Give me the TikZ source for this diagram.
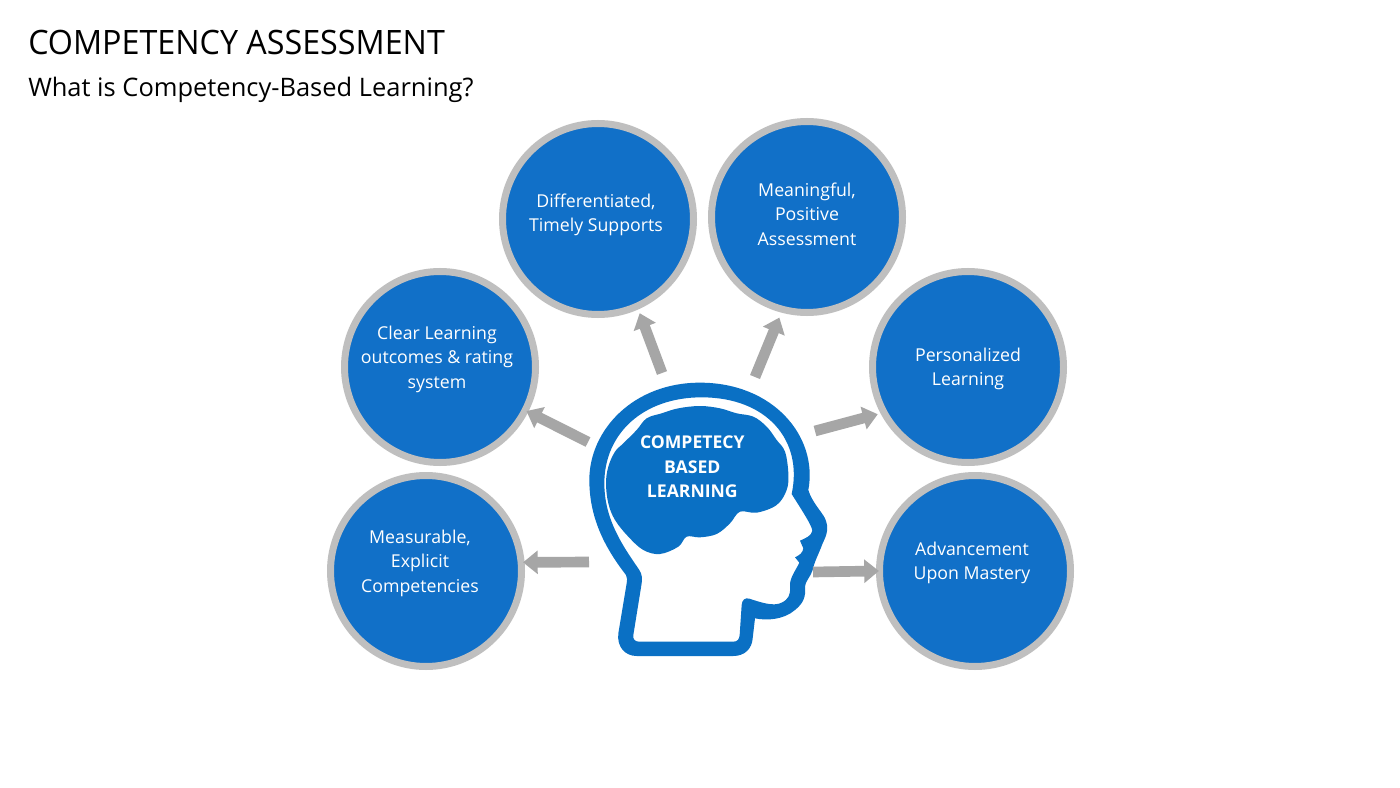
\documentclass[tikz,border=0pt]{standalone}
\usepackage{fontspec}
\setmainfont{Open Sans}
\newfontfamily\titlefont[FakeStretch=0.96]{Open Sans}
\usetikzlibrary{arrows.meta}
\definecolor{disc}{HTML}{1170C8}
\definecolor{ringc}{HTML}{BFBFBF}
\definecolor{arrowc}{HTML}{A6A6A6}
\definecolor{headc}{HTML}{0A70C4}
\tikzset{
  topic/.style={circle,draw=ringc,fill=disc,line width=5.25pt,minimum size=143.25pt,inner sep=0pt},
  topictext/.style={text=white,align=center,inner sep=0pt,font=\fontsize{13.3}{18.3}\selectfont},
  link/.style={draw=arrowc,line width=8pt,-{Triangle[width=17pt,length=11pt]}},
  title/.style={anchor=west,inner sep=0pt,text=black},
  headtext/.style={text=white,align=center,inner sep=0pt,font=\fontsize{13.2}{18.4}\selectfont\bfseries}
}
\begin{document}
\begin{tikzpicture}[x=.75pt,y=-.75pt]
\path[use as bounding box,fill=white] (0,0) rectangle (1400,788);
\node[title,font=\fontsize{25.2}{30}\titlefont] (ttl) at (28,42) {COMPETENCY ASSESSMENT};
\node[title,font=\fontsize{19.1}{24}\selectfont] (sub) at (28,90) {What is Competency-Based Learning?};

\node[topic] (c1) at (426,571) {};
\node[topic] (c2) at (440,367) {};
\node[topic] (c3) at (598,219) {};
\node[topic] (c4) at (807,217) {};
\node[topic] (c5) at (968,367) {};
\node[topic] (c6) at (975,571) {};
\node[topictext] (l1) at (420,563) {Measurable,\\Explicit\\Competencies};
\node[topictext] (l2) at (437,359) {Clear Learning\\outcomes \& rating\\system};
\node[topictext] (l3) at (596,215) {Differentiated,\\Timely Supports};
\node[topictext] (l4) at (807,214) {Meaningful,\\Positive\\Assessment};
\node[topictext] (l5) at (968,369) {Personalized\\Learning};
\node[topictext] (l6) at (972,563) {Advancement\\Upon Mastery};

% head outline and brain, traced in 3x-zoom coordinates
\begin{scope}[shift={(570,370)},x=.25pt,y=-.25pt]
\fill[headc,even odd rule]
  (170,640) -- (145,790) .. controls (140,830) and (165,858) .. (200,858) -- (490,858)
  .. controls (525,858) and (546,835) .. (548,805) -- (555,745)
  .. controls (590,752) and (640,750) .. (675,720)
  .. controls (700,700) and (708,680) .. (705,650)
  .. controls (705,635) and (722,620) .. (728,600)
  .. controls (733,575) and (745,555) .. (758,520)
  .. controls (770,495) and (778,475) .. (765,445)
  .. controls (755,425) and (725,395) .. (715,360)
  .. controls (745,200) and (610,38) .. (390,38)
  .. controls (190,38) and (58,180) .. (58,330)
  .. controls (58,450) and (110,540) .. (168,615)
  .. controls (172,625) and (172,630) .. (170,640) -- cycle
  (215,640) -- (190,795) .. controls (188,808) and (195,815) .. (208,815) -- (490,815)
  .. controls (502,815) and (508,808) .. (509,795) -- (515,705)
  .. controls (516,690) and (525,682) .. (538,686)
  .. controls (575,698) and (610,710) .. (635,698)
  .. controls (655,688) and (662,675) .. (660,650)
  .. controls (658,625) and (675,605) .. (688,578) -- (675,562)
  .. controls (690,555) and (698,548) .. (700,535) -- (690,512)
  .. controls (705,505) and (725,498) .. (727,482)
  .. controls (725,465) and (695,420) .. (665,372)
  .. controls (700,210) and (590,82) .. (395,82)
  .. controls (220,82) and (103,190) .. (103,340)
  .. controls (103,450) and (160,530) .. (208,600)
  .. controls (216,612) and (217,625) .. (215,640) -- cycle;
\fill[headc] plot[smooth cycle,tension=.6] coordinates {
  (108,340) (115,290) (135,245) (160,220) (200,180) (230,145) (275,130) (325,115) (390,108)
  (450,115) (500,130) (550,140) (590,170) (620,210) (645,245) (655,310) (650,360) (620,405)
  (560,428) (510,425) (480,460) (440,492) (390,502) (350,500) (325,530) (270,552) (220,540)
  (175,500) (135,450) (115,400)};
\node[headtext] (brain) at (367,291) {COMPETECY\\BASED\\LEARNING};
\end{scope}

\coordinate (t1) at (589,562);
\coordinate (t2) at (588,442);
\coordinate (t3) at (662,373);
\coordinate (t4) at (755,377);
\coordinate (t5) at (815,431);
\coordinate (t6) at (813,572);
\draw[link,shorten >=-1.2pt] (t1) -- (c1.5);
\draw[link,shorten >=-1.5pt] (t2) -- (c2.-27);
\draw[link,shorten >=3pt] (t3) -- (c3.-66);
\draw[link,shorten >=4pt] (t4) -- (c4.-105);
\draw[link,shorten >=2.2pt] (t5) -- (c5.-152);
\draw[link,shorten >=-2.2pt] (t6) -- (c6.180);
\end{tikzpicture}
\end{document}
